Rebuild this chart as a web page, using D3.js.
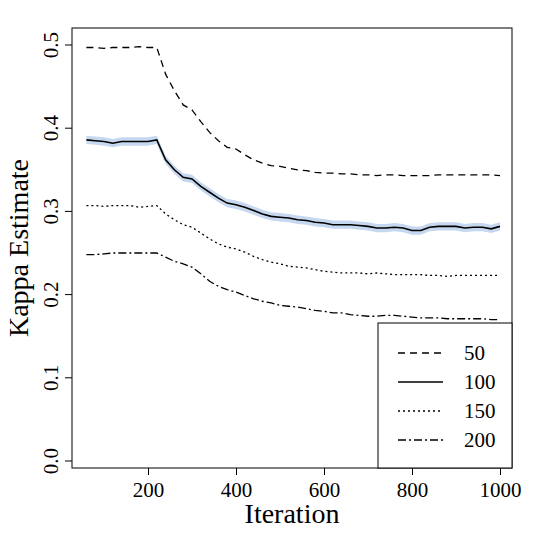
<!DOCTYPE html><html><head><script src="https://cdn.jsdelivr.net/npm/d3@7"></script>
<style>body{margin:0;background:#fff}text{font-family:"Liberation Serif","DejaVu Serif",serif}</style></head><body>
<svg id="c" width="540" height="540"></svg>
<script>
const iterations = d3.range(60, 1001, 20);
const s50 = [0.497,0.497,0.496,0.497,0.497,0.497,0.498,0.497,0.497,0.465,0.445,0.428,0.422,0.408,0.395,0.385,0.377,0.375,0.368,0.362,0.358,0.355,0.354,0.352,0.350,0.349,0.347,0.346,0.346,0.345,0.345,0.344,0.344,0.343,0.344,0.344,0.343,0.343,0.343,0.343,0.344,0.344,0.344,0.344,0.344,0.344,0.344,0.343];
const s100 = [0.386,0.385,0.384,0.382,0.384,0.384,0.384,0.384,0.386,0.362,0.350,0.341,0.339,0.330,0.323,0.316,0.310,0.308,0.305,0.301,0.297,0.294,0.293,0.292,0.290,0.289,0.287,0.286,0.284,0.284,0.284,0.283,0.282,0.280,0.280,0.281,0.280,0.277,0.277,0.281,0.282,0.282,0.282,0.280,0.281,0.281,0.279,0.282];
const s150 = [0.307,0.307,0.306,0.307,0.307,0.307,0.305,0.306,0.307,0.297,0.290,0.284,0.281,0.274,0.267,0.261,0.257,0.255,0.251,0.246,0.242,0.239,0.237,0.234,0.233,0.232,0.230,0.228,0.227,0.226,0.226,0.226,0.225,0.226,0.225,0.224,0.224,0.224,0.224,0.223,0.223,0.222,0.223,0.223,0.223,0.223,0.223,0.223];
const s200 = [0.248,0.248,0.249,0.250,0.250,0.250,0.250,0.250,0.250,0.245,0.240,0.237,0.233,0.225,0.216,0.210,0.206,0.203,0.199,0.195,0.192,0.190,0.187,0.186,0.185,0.183,0.181,0.180,0.178,0.178,0.176,0.175,0.174,0.174,0.175,0.175,0.174,0.173,0.172,0.172,0.172,0.171,0.171,0.171,0.171,0.171,0.170,0.170];
const bandHalf = 0.005;
const seriesNames = ["50","100","150","200"];
const dashes = ["7,5",null,"2,3","8,3,2,3"];
const xTicks = [200,400,600,800,1000];
const yTicks = [0,0.1,0.2,0.3,0.4,0.5];

const svg = d3.select("#c");
const L=72,R=512,T=28,B=468;
const x = d3.scaleLinear().domain([0,1000]).range([60,500]);
const y = d3.scaleLinear().domain([0,0.5]).range([461,45]);
svg.append("rect").attr("x",L).attr("y",T).attr("width",R-L).attr("height",B-T).attr("fill","none").attr("stroke","#000");
const xa = svg.append("g").attr("transform",`translate(0,${B})`).call(d3.axisBottom(x).tickValues(xTicks).tickFormat(d3.format("d")).tickSize(7).tickSizeOuter(0));
xa.select(".domain").remove();
xa.selectAll("text").attr("font-size",21).attr("dy","0.9em").attr("fill","#000");
const ya = svg.append("g").attr("transform",`translate(${L},0)`).call(d3.axisLeft(y).tickValues(yTicks).tickFormat(d3.format(".1f")).tickSize(7).tickSizeOuter(0));
ya.select(".domain").remove();
ya.selectAll(".tick").attr("transform",null);
ya.selectAll(".tick line").each(function(d){d3.select(this).attr("y1",y(d)).attr("y2",y(d));});
ya.selectAll(".tick text").attr("font-size",21).attr("fill","#000").attr("x",-14).attr("y",d=>y(d)).attr("dy","0").attr("text-anchor","middle").attr("transform",d=>`rotate(-90,-14,${y(d)})`);
svg.append("text").attr("x",292).attr("y",523).attr("text-anchor","middle").attr("font-size",28).text("Iteration");
svg.append("text").attr("transform","translate(28,248) rotate(-90)").attr("text-anchor","middle").attr("font-size",28).text("Kappa Estimate");
const data = [s50,s100,s150,s200];
svg.append("path").datum(s100).attr("fill","#c6d8ef")
 .attr("d",d3.area().x((d,i)=>x(iterations[i])).y0(d=>y(d-bandHalf)).y1(d=>y(d+bandHalf)));
const line = d3.line().x((d,i)=>x(iterations[i])).y(d=>y(d));
data.forEach((s,k)=>{
 svg.append("path").datum(s).attr("fill","none").attr("stroke","#000").attr("stroke-width",k==1?1.6:1.3).attr("stroke-dasharray",dashes[k]).attr("d",line);
});
const lg = svg.append("g");
lg.append("rect").attr("x",378).attr("y",323).attr("width",134).attr("height",145).attr("fill","#fff").attr("stroke","#000");
seriesNames.forEach((n,k)=>{
 const yy=353+k*29;
 lg.append("line").attr("x1",398).attr("x2",443).attr("y1",yy).attr("y2",yy).attr("stroke","#000").attr("stroke-width",1.4).attr("stroke-dasharray",dashes[k]);
 lg.append("text").attr("x",464).attr("y",yy+7).attr("font-size",21).text(n);
});
</script></body></html>
